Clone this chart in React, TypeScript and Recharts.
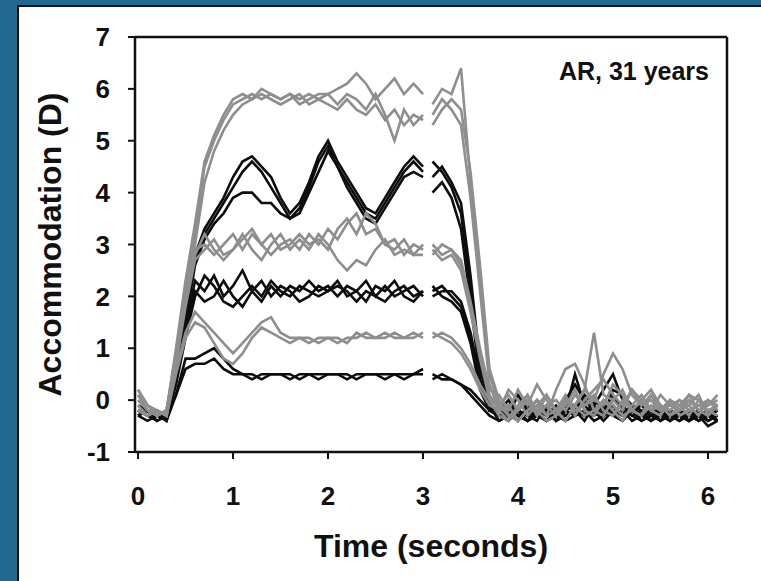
import { LineChart, Line, XAxis, YAxis, ReferenceLine } from "recharts"

// time in seconds; 3.05 is the recording gap
const times = [
  0, 0.1, 0.2, 0.3, 0.4, 0.5, 0.6, 0.7, 0.8, 0.9, 1.0, 1.1, 1.2, 1.3, 1.4, 1.5, 1.6, 1.7, 1.8, 1.9, 2.0,
  2.1, 2.2, 2.3, 2.4, 2.5, 2.6, 2.7, 2.8, 2.9, 3.0, 3.05, 3.1, 3.2, 3.3, 3.4, 3.5, 3.6, 3.7, 3.8, 3.9, 4.0,
  4.1, 4.2, 4.3, 4.4, 4.5, 4.6, 4.7, 4.8, 4.9, 5.0, 5.1, 5.2, 5.3, 5.4, 5.5, 5.6, 5.7, 5.8, 5.9, 6.0, 6.1,
]
const xTicks = [0, 1, 2, 3, 4, 5, 6]
const yTicks = [-1, 0, 1, 2, 3, 4, 5, 6, 7]

// black traces
const b05a = [
  -0.2, -0.3, -0.2, -0.4, 0.1, 0.8, 0.8, 0.9, 1.0, 0.8, 0.6, 0.5, 0.5, 0.4, 0.5, 0.5, 0.5, 0.4, 0.5, 0.5,
  0.5, 0.5, 0.4, 0.5, 0.5, 0.5, 0.4, 0.5, 0.5, 0.5, 0.5, null,
  0.5, 0.4, 0.4, 0.3, 0.2, 0.0, -0.2, -0.3, -0.2, -0.3, -0.4, -0.3, -0.2, -0.3, -0.4, -0.3, -0.2, -0.3,
  -0.1, -0.3, -0.2, -0.3, -0.4, -0.3, -0.2, -0.3, -0.3, -0.4, -0.2, -0.3, -0.4,
]
const b05b = [
  -0.3, -0.2, -0.3, -0.3, 0.1, 0.6, 0.7, 0.7, 0.8, 0.6, 0.5, 0.5, 0.4, 0.5, 0.5, 0.5, 0.4, 0.5, 0.5, 0.4,
  0.5, 0.5, 0.5, 0.4, 0.5, 0.5, 0.5, 0.5, 0.4, 0.5, 0.6, null,
  0.4, 0.5, 0.4, 0.3, 0.1, -0.1, -0.3, -0.4, -0.3, -0.2, -0.3, -0.2, -0.4, -0.3, -0.2, -0.1, -0.3, -0.2,
  -0.4, -0.2, -0.3, -0.1, -0.3, -0.2, -0.3, -0.4, -0.2, -0.3, -0.4, -0.3, -0.2,
]
const b2a = [
  -0.3, -0.4, -0.3, -0.3, 0.4, 1.4, 2.3, 2.1, 2.4, 2.0, 2.2, 2.5, 2.1, 1.9, 2.2, 2.0, 2.2, 2.1, 2.3, 2.1,
  2.2, 2.0, 2.2, 2.1, 2.3, 2.0, 2.2, 2.0, 2.1, 2.2, 2.0, null,
  2.1, 2.2, 2.0, 1.8, 1.2, 0.3, -0.2, -0.2, -0.3, 0.1, -0.2, -0.3, -0.4, -0.2, 0.0, 0.3, 0.0, -0.2,
  -0.3, -0.1, -0.3, -0.2, -0.4, -0.3, -0.1, -0.3, -0.4, -0.3, -0.2, -0.4, -0.3,
]
const b2b = [
  -0.2, -0.3, -0.4, -0.3, 0.4, 1.3, 2.1, 1.9, 2.0, 2.3, 2.0, 1.8, 2.1, 2.3, 2.0, 2.2, 2.1, 1.9, 2.0, 2.2,
  2.1, 2.3, 2.0, 2.1, 1.9, 2.2, 2.1, 2.3, 2.0, 1.9, 2.1, null,
  2.0, 2.1, 2.1, 1.9, 1.3, 0.4, -0.1, -0.4, -0.3, -0.2, -0.4, -0.3, -0.2, -0.4, -0.3, -0.2, -0.3, 0.0,
  -0.2, -0.3, -0.4, -0.2, -0.1, -0.3, -0.2, -0.4, -0.3, -0.2, -0.4, -0.3, -0.2,
]
const b2c = [
  -0.3, -0.2, -0.3, -0.4, 0.3, 1.2, 2.0, 2.4, 2.2, 1.9, 1.8, 2.0, 2.2, 2.0, 2.3, 2.1, 2.0, 2.2, 2.1, 2.0,
  2.1, 2.2, 2.1, 1.9, 2.1, 2.0, 1.9, 2.1, 2.2, 2.0, 2.1, null,
  2.2, 2.0, 1.9, 1.7, 1.1, 0.2, -0.2, -0.2, -0.1, -0.3, -0.2, 0.0, -0.2, -0.3, -0.1, -0.2, 0.1, -0.1,
  -0.3, 0.2, 0.1, -0.1, -0.2, -0.4, -0.3, -0.2, -0.3, -0.4, -0.3, -0.2, -0.4,
]
const b4a = [
  -0.2, -0.3, -0.2, -0.3, 0.6, 1.7, 2.8, 3.3, 3.6, 3.9, 4.3, 4.6, 4.7, 4.5, 4.3, 3.9, 3.6, 3.8, 4.2, 4.7,
  5.0, 4.6, 4.3, 4.0, 3.7, 3.6, 3.9, 4.2, 4.5, 4.7, 4.5, null,
  4.6, 4.4, 4.1, 3.6, 2.2, 0.6, -0.1, -0.3, -0.2, -0.4, -0.1, -0.3, -0.2, -0.4, -0.2, 0.5, -0.1, -0.3,
  -0.2, 0.1, -0.2, -0.4, -0.3, -0.2, -0.4, -0.3, -0.2, -0.4, -0.3, -0.5, -0.4,
]
const b4b = [
  -0.3, -0.2, -0.4, -0.3, 0.5, 1.6, 2.7, 3.2, 3.5, 3.8, 4.1, 4.4, 4.6, 4.4, 4.1, 3.8, 3.5, 3.7, 4.1, 4.6,
  4.9, 4.5, 4.2, 3.9, 3.6, 3.5, 3.8, 4.1, 4.4, 4.6, 4.4, null,
  4.3, 4.5, 4.2, 3.8, 2.4, 0.7, -0.2, -0.2, 0.0, -0.3, -0.4, -0.2, -0.3, -0.1, -0.3, -0.2, -0.4, -0.1,
  0.2, 0.5, 0.0, -0.2, -0.3, -0.4, -0.2, -0.3, -0.4, -0.2, -0.3, -0.4, -0.3,
]
const b4c = [
  -0.1, -0.2, -0.3, -0.2, 0.5, 1.5, 2.6, 3.1, 3.4, 3.6, 3.9, 4.0, 4.0, 3.8, 3.8, 3.6, 3.5, 3.6, 4.0, 4.4,
  4.8, 4.5, 4.1, 3.8, 3.5, 3.4, 3.7, 4.0, 4.3, 4.4, 4.3, null,
  4.0, 4.2, 3.9, 3.3, 1.9, 0.4, -0.2, -0.3, -0.4, -0.2, -0.3, -0.4, -0.1, -0.3, -0.2, -0.3, -0.2, -0.4,
  -0.3, -0.2, -0.1, -0.3, -0.2, -0.3, -0.4, -0.2, -0.3, -0.4, -0.2, -0.3, -0.4,
]

// grey traces
const g1a = [
  0.2, -0.1, -0.2, -0.3, 0.6, 1.3, 1.7, 1.5, 1.3, 1.1, 0.9, 1.1, 1.3, 1.5, 1.6, 1.3, 1.2, 1.2, 1.1, 1.2,
  1.2, 1.1, 1.2, 1.2, 1.3, 1.2, 1.2, 1.3, 1.2, 1.2, 1.3, null,
  1.2, 1.3, 1.2, 1.0, 0.7, 0.3, 0.0, -0.1, -0.3, -0.2, 0.0, -0.2, -0.1, -0.3, 0.0, -0.2, -0.1, 0.1,
  -0.2, -0.3, 0.0, -0.2, -0.3, -0.1, -0.2, 0.0, -0.3, -0.2, -0.1, -0.2, -0.3,
]
const g1b = [
  -0.1, -0.3, -0.2, -0.3, 0.5, 1.2, 1.5, 1.4, 1.1, 0.8, 0.7, 0.9, 1.2, 1.4, 1.3, 1.2, 1.1, 1.2, 1.2, 1.1,
  1.2, 1.2, 1.1, 1.3, 1.2, 1.2, 1.3, 1.2, 1.2, 1.3, 1.2, null,
  1.3, 1.2, 1.1, 0.9, 0.6, 0.2, -0.1, -0.2, -0.1, -0.4, -0.2, -0.1, -0.3, -0.2, -0.4, -0.1, -0.3, -0.2,
  0.0, -0.1, -0.3, -0.2, 0.0, -0.2, -0.1, -0.3, -0.2, 0.0, -0.2, -0.3, -0.1,
]
const g3a = [
  0.1, -0.2, -0.3, -0.2, 0.8, 1.9, 2.9, 3.0, 2.8, 3.0, 3.2, 2.9, 3.2, 3.0, 2.8, 3.0, 3.1, 2.9, 3.2, 3.0,
  3.3, 3.1, 3.4, 3.6, 3.2, 3.3, 3.0, 3.1, 2.8, 3.0, 2.9, null,
  3.0, 2.8, 2.9, 2.6, 1.8, 0.9, 0.1, -0.2, 0.2, 0.0, -0.3, -0.1, 0.1, -0.2, -0.4, -0.1, 0.2, 0.0,
  -0.1, 0.3, 0.1, -0.2, 0.0, 0.2, -0.1, -0.2, 0.0, -0.1, -0.3, 0.0, -0.2,
]
const g3b = [
  -0.2, -0.3, -0.2, -0.3, 0.7, 1.8, 2.7, 2.9, 3.1, 2.8, 2.9, 3.2, 2.9, 2.7, 3.0, 3.2, 2.9, 3.1, 2.9, 3.2,
  3.0, 2.7, 2.5, 2.7, 2.6, 2.9, 3.1, 2.8, 2.9, 2.8, 2.8, null,
  2.9, 2.7, 2.8, 2.5, 1.7, 0.8, 0.0, -0.3, -0.4, -0.1, 0.1, -0.2, -0.4, -0.3, -0.1, 0.2, -0.2, -0.3,
  0.0, -0.2, -0.4, -0.1, 0.1, -0.2, -0.3, 0.0, -0.2, -0.1, 0.1, -0.3, -0.1,
]
const g3c = [
  0.0, -0.2, -0.3, -0.2, 0.8, 1.9, 2.8, 3.2, 2.9, 2.7, 2.9, 3.1, 3.3, 3.0, 3.2, 2.9, 3.0, 3.2, 3.0, 3.1,
  2.9, 3.3, 3.5, 3.2, 3.6, 3.4, 3.0, 2.9, 3.1, 2.8, 3.0, null,
  2.8, 3.0, 2.9, 2.7, 1.9, 1.0, 0.2, 0.1, -0.2, 0.2, -0.1, 0.3, 0.0, -0.2, 0.1, -0.3, 0.0, 0.2,
  0.4, 0.1, -0.1, 0.2, 0.0, -0.2, 0.1, -0.1, -0.2, 0.1, 0.0, -0.1, 0.1,
]
const h1 = [
  0.1, -0.2, -0.3, -0.2, 0.9, 2.1, 3.2, 4.5, 5.0, 5.4, 5.7, 5.8, 5.9, 5.8, 5.9, 5.8, 5.9, 5.7, 5.8, 5.9,
  5.9, 6.0, 6.1, 6.3, 6.1, 5.8, 6.0, 6.2, 5.9, 6.1, 5.9, null,
  5.7, 6.0, 5.9, 6.4, 4.2, 2.4, 0.5, -0.1, 0.1, -0.2, 0.0, -0.3, 0.1, -0.2, 0.0, -0.1, 0.2, 1.3,
  0.1, 0.0, -0.2, 0.2, -0.1, 0.1, -0.2, 0.0, -0.1, -0.3, 0.0, -0.2, -0.1,
]
const h2 = [
  -0.2, -0.3, -0.2, -0.3, 0.7, 1.9, 3.0, 4.2, 4.8, 5.2, 5.5, 5.7, 5.8, 5.9, 5.8, 5.7, 5.8, 5.9, 5.7, 5.8,
  5.7, 5.6, 5.8, 5.6, 5.5, 5.7, 5.4, 5.6, 5.3, 5.5, 5.4, null,
  5.5, 5.8, 5.6, 5.3, 3.9, 2.1, 0.3, -0.2, -0.4, -0.2, 0.1, -0.3, -0.1, 0.0, -0.2, 0.1, -0.1, 0.0,
  0.5, 0.9, 0.6, 0.1, -0.1, 0.0, -0.2, -0.1, 0.0, -0.2, -0.1, 0.0, -0.1,
]
const h3 = [
  0.2, -0.1, -0.3, -0.2, 1.0, 2.3, 3.4, 4.6, 5.1, 5.5, 5.8, 5.9, 5.8, 6.0, 5.9, 5.8, 5.9, 5.8, 5.9, 5.8,
  5.9, 5.7, 5.9, 5.8, 5.6, 5.9, 5.5, 5.0, 5.6, 5.3, 5.5, null,
  5.3, 5.6, 5.8, 5.6, 4.4, 2.6, 0.6, 0.0, -0.3, -0.4, -0.2, 0.0, -0.3, 0.2, 0.6, 0.7, 0.3, -0.2,
  -0.3, 0.0, 0.2, -0.2, -0.3, 0.1, -0.1, -0.3, -0.1, 0.1, -0.2, -0.1, 0.0,
]

const blackTraces: Record<string, (number | null)[]> = { b05a, b05b, b2a, b2b, b2c, b4a, b4b, b4c }
const greyTraces: Record<string, (number | null)[]> = { g1a, g1b, g3a, g3b, g3c, h1, h2, h3 }

const data = times.map((t, i) => {
  const row: Record<string, number | null> = { t }
  for (const [k, v] of Object.entries({ ...blackTraces, ...greyTraces })) row[k] = v[i]
  return row
})

const font = "'Liberation Sans', Arial, sans-serif"
const ink = "#111"

export default function App() {
  return (
    <div
      style={{
        position: "fixed",
        left: 0,
        top: 0,
        width: 761,
        height: 581,
        background: "#206a8f",
        overflow: "hidden",
        fontFamily: font,
        fontWeight: 700,
      }}
    >
      <div
        style={{
          position: "absolute",
          left: 17,
          top: 5,
          right: 0,
          bottom: 0,
          background: "#fff",
          borderLeft: "2px solid #0b0b0b",
          borderTop: "2px solid #0b0b0b",
        }}
      />
      <div style={{ position: "absolute", left: 0, top: 0 }}>
        <LineChart width={761} height={581} data={data} margin={{ top: 37, right: 34, bottom: 0, left: 0 }}>
          <XAxis
            type="number"
            dataKey="t"
            domain={[-0.032, 6.2]}
            ticks={xTicks}
            allowDataOverflow
            height={129}
            tickSize={7}
            tickMargin={28}
            axisLine={{ stroke: ink, strokeWidth: 2.5 }}
            tickLine={{ stroke: ink, strokeWidth: 2 }}
            tick={{ fill: ink, fontSize: 26, fontWeight: 700, fontFamily: font }}
            label={{
              value: "Time (seconds)",
              position: "insideBottom",
              offset: 24,
              style: { fill: ink, fontSize: 32, fontWeight: 700, fontFamily: font },
            }}
          />
          <YAxis
            type="number"
            domain={[-1, 7]}
            ticks={yTicks}
            width={135}
            tickSize={7}
            tickMargin={18}
            axisLine={{ stroke: ink, strokeWidth: 2.5 }}
            tickLine={{ stroke: ink, strokeWidth: 2 }}
            tick={{ fill: ink, fontSize: 26, fontWeight: 700, fontFamily: font }}
            label={{
              value: "Accommodation (D)",
              angle: -90,
              position: "insideLeft",
              offset: 50,
              style: { fill: ink, fontSize: 32, fontWeight: 700, fontFamily: font, textAnchor: "middle" },
            }}
          />
          <ReferenceLine y={7} stroke={ink} strokeWidth={2.5} />
          <ReferenceLine x={6.2} stroke={ink} strokeWidth={2.5} />
          {Object.keys(blackTraces).map((k) => (
            <Line
              key={k}
              type="linear"
              dataKey={k}
              stroke="#0d0d0d"
              strokeWidth={2.6}
              dot={false}
              isAnimationActive={false}
            />
          ))}
          {Object.keys(greyTraces).map((k) => (
            <Line
              key={k}
              type="linear"
              dataKey={k}
              stroke="#8e8e8e"
              strokeWidth={2.6}
              dot={false}
              isAnimationActive={false}
            />
          ))}
        </LineChart>
      </div>
      <svg width={761} height={581} style={{ position: "absolute", left: 0, top: 0, pointerEvents: "none" }}>
        <text x={709} y={80} textAnchor="end" fill={ink} fontSize={25} fontWeight={700} fontFamily={font}>
          AR, 31 years
        </text>
      </svg>
    </div>
  )
}
